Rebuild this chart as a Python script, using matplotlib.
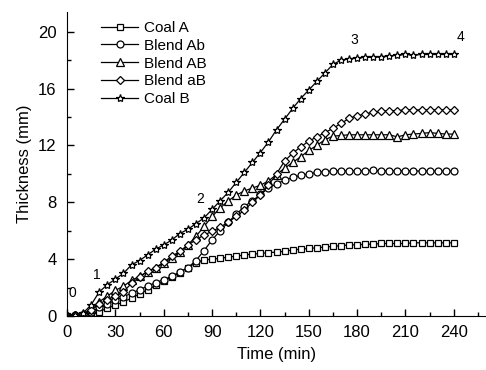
import matplotlib
matplotlib.use("Agg")
import matplotlib.pyplot as plt
from matplotlib.ticker import MultipleLocator

plt.rcParams['font.family'] = ['Liberation Sans', 'DejaVu Sans']

time = list(range(0, 241, 5))

coal_a = [0, 0, 0.05, 0.15, 0.3, 0.55, 0.75, 1.0, 1.25, 1.55, 1.85, 2.15, 2.45, 2.75,
          3.05, 3.4, 3.75, 3.95, 4.0, 4.05, 4.15, 4.2, 4.3, 4.35, 4.4, 4.45, 4.5, 4.55,
          4.65, 4.7, 4.75, 4.8, 4.85, 4.9, 4.95, 5.0, 5.0, 5.05, 5.05, 5.1, 5.1, 5.1,
          5.1, 5.15, 5.15, 5.15, 5.15, 5.15, 5.15]

blend_ab_lower = [0, 0.05, 0.1, 0.3, 0.6, 0.85, 1.1, 1.35, 1.6, 1.85, 2.1, 2.35, 2.55, 2.8,
                  3.1, 3.4, 3.9, 4.6, 5.35, 6.0, 6.6, 7.15, 7.7, 8.1, 8.55, 9.0, 9.3, 9.55,
                  9.75, 9.9, 10.0, 10.1, 10.15, 10.2, 10.2, 10.2, 10.2, 10.2, 10.25, 10.2,
                  10.2, 10.2, 10.2, 10.2, 10.2, 10.2, 10.2, 10.2, 10.2]

blend_AB = [0, 0.05, 0.15, 0.5, 1.0, 1.4, 1.8, 2.1, 2.5, 2.8, 3.1, 3.4, 3.7, 4.1,
            4.5, 5.0, 5.6, 6.3, 7.0, 7.6, 8.1, 8.5, 8.8, 9.0, 9.2, 9.5, 9.95, 10.4,
            10.8, 11.2, 11.65, 12.0, 12.4, 12.65, 12.7, 12.75, 12.75, 12.75, 12.75, 12.75,
            12.75, 12.6, 12.75, 12.8, 12.85, 12.9, 12.85, 12.8, 12.8]

blend_aB = [0, 0.05, 0.15, 0.4, 0.85, 1.15, 1.4, 1.7, 2.3, 2.75, 3.15, 3.4, 3.8, 4.2,
            4.55, 5.0, 5.35, 5.7, 5.95, 6.25, 6.6, 7.0, 7.45, 8.0, 8.5, 9.2, 10.0, 10.9,
            11.45, 11.9, 12.3, 12.6, 12.9, 13.2, 13.55, 13.9, 14.1, 14.2, 14.35, 14.4,
            14.45, 14.45, 14.5, 14.5, 14.5, 14.5, 14.5, 14.5, 14.5]

coal_b = [0, 0.1, 0.2, 0.8, 1.7, 2.2, 2.6, 3.0, 3.6, 3.9, 4.3, 4.7, 5.0, 5.35,
          5.8, 6.1, 6.5, 6.9, 7.5, 8.1, 8.7, 9.4, 10.1, 10.8, 11.5, 12.25, 13.1, 13.85,
          14.6, 15.3, 15.9, 16.5, 17.1, 17.7, 18.0, 18.1, 18.15, 18.2, 18.2, 18.25,
          18.3, 18.35, 18.4, 18.35, 18.4, 18.4, 18.4, 18.4, 18.4]

series_names = ["Coal A", "Blend Ab", "Blend AB", "Blend aB", "Coal B"]
series_values = [coal_a, blend_ab_lower, blend_AB, blend_aB, coal_b]
markers = ["s", "o", "^", "D", "*"]
msizes = [3.9, 5.0, 5.5, 4.4, 6.0]

stage_labels = ["0", "1", "2", "3", "4"]
stage_x = [3, 18.5, 82.5, 178.5, 244]
stage_y = [1.6, 2.9, 8.2, 19.4, 19.6]

fig = plt.figure(figsize=(4.86, 3.70), dpi=100)
ax = fig.add_axes([0.138, 0.146, 0.862, 0.822])

for name, vals, m, ms in zip(series_names, series_values, markers, msizes):
    ax.plot(time, vals, color="black", lw=0.9, marker=m, markersize=ms,
            markerfacecolor="white", markeredgecolor="black", markeredgewidth=0.9,
            label=name)

for lab, sx, sy in zip(stage_labels, stage_x, stage_y):
    ax.text(sx, sy, lab, fontsize=10, ha="center", va="center")

ax.set_xlim(0, 260)
ax.set_ylim(0, 21.4)
ax.xaxis.set_minor_locator(MultipleLocator(15))
ax.yaxis.set_major_locator(MultipleLocator(4))
ax.yaxis.set_minor_locator(MultipleLocator(2))
ax.set_xticks([0, 30, 60, 90, 120, 150, 180, 210, 240])
ax.tick_params(which="both", direction="in", labelsize=12, width=1)
ax.tick_params(which="major", length=5)
ax.tick_params(which="minor", length=3)
ax.tick_params(axis="y", which="major", pad=7.5)
ax.tick_params(axis="x", which="major", pad=6.5)
ax.spines["top"].set_visible(False)
ax.spines["right"].set_visible(False)
ax.set_xlabel("Time (min)", fontsize=12, labelpad=5)
ax.set_ylabel("Thickness (mm)", fontsize=12, labelpad=4)

ax.legend(loc="upper left", bbox_to_anchor=(0.06, 1.0), frameon=False, fontsize=11,
          handlelength=2.4, handletextpad=0.4, labelspacing=0.25, borderaxespad=0.2)

fig.savefig("out.png", dpi=100)
